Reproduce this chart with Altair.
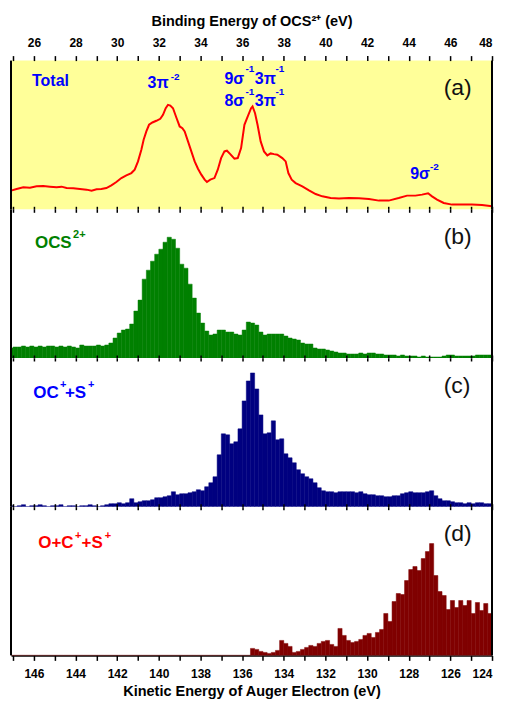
import altair as alt
import pandas as pd

# ---------------- data ----------------
KE_MIN, KE_MAX = 124.0, 147.1          # kinetic-energy axis range (eV), drawn high -> low
BE_SUM = 172.0                          # binding energy = 172 - kinetic energy
BIN_TOP = 147.2                         # upper edge of the first histogram bin
BIN_WIDTH = 0.2
Y_MAX = 149

ke_ticks = list(range(124, 148))
be_ticks = list(range(25, 49))

# (a) total Auger spectrum
total_ke = [147.10, 146.83, 146.51, 146.19, 145.87, 145.55, 145.23, 144.91, 144.67, 144.43,
            144.11, 143.79, 143.47, 143.23, 142.99, 142.76, 142.52, 142.28, 142.04, 141.80,
            141.56, 141.32, 141.16, 141.00, 140.84, 140.73, 140.60, 140.47, 140.31, 140.12,
            139.93, 139.80, 139.67, 139.56, 139.45, 139.32, 139.16, 139.00, 138.87, 138.76,
            138.60, 138.44, 138.28, 138.12, 137.96, 137.80, 137.69, 137.53, 137.33, 137.17,
            137.01, 136.85, 136.73, 136.57, 136.37, 136.21, 136.05, 135.89, 135.73, 135.57,
            135.50, 135.38, 135.26, 135.11, 134.95, 134.79, 134.63, 134.47, 134.31, 134.07,
            133.91, 133.78, 133.62, 133.43, 133.11, 132.79, 132.47, 132.15, 131.75, 131.35,
            130.87, 130.39, 129.91, 129.43, 128.96, 128.48, 128.08, 127.68, 127.36, 127.07,
            126.88, 126.64, 126.32, 125.92, 125.44, 124.96, 124.48, 124.00]
total_int = [18.7, 20.3, 22.0, 21.7, 23.0, 23.3, 22.7, 22.0, 22.7, 21.3,
             21.0, 20.3, 19.7, 18.7, 20.0, 20.3, 21.3, 24.0, 27.3, 31.3,
             34.0, 36.3, 39.7, 48.0, 59.7, 69.7, 78.0, 84.7, 87.0, 88.7,
             90.7, 94.7, 101.3, 104.7, 104.0, 101.3, 92.0, 83.0, 81.3, 78.0,
             68.0, 58.0, 48.0, 40.7, 34.7, 29.7, 27.3, 29.7, 31.3, 39.7,
             51.3, 58.0, 58.7, 55.3, 50.7, 51.3, 61.3, 84.7, 93.0, 101.3,
             103.0, 96.3, 84.7, 68.0, 58.0, 54.0, 56.0, 55.3, 54.7, 51.3,
             48.0, 36.3, 29.7, 26.3, 23.0, 19.0, 15.3, 13.0, 11.3, 10.7,
             11.3, 11.0, 10.3, 8.7, 8.7, 11.3, 13.7, 13.7, 14.7, 16.0,
             13.0, 9.7, 6.3, 4.7, 4.7, 4.7, 4.3, 3.0]

# (b) OCS2+ coincidence counts, 0.2 eV bins from 147.2 eV downwards
ocs2_counts = [10, 11, 11, 12, 11, 12, 11, 12, 11, 12,
               12, 11, 12, 11, 12, 11, 10, 13, 12, 12,
               12, 13, 12, 13, 15, 20, 25, 28, 29, 34,
               47, 58, 79, 88, 97, 104, 109, 116, 121, 119,
               110, 94, 90, 74, 60, 45, 35, 27, 23, 24,
               28, 28, 26, 26, 24, 23, 28, 36, 35, 33,
               26, 23, 24, 24, 24, 24, 22, 20, 19, 18,
               15, 14, 14, 10, 9, 9, 8, 7, 6, 5,
               5, 4, 4, 4, 5, 4, 5, 5, 4, 4,
               3, 3, 3, 2, 3, 2, 2, 2, 1, 2,
               1, 1, 1, 1, 2, 3, 3, 2, 2, 2,
               2, 2, 3, 3, 3, 3]

# (c) OC+ + S+ counts
ocs_pair_counts = [1, 0, 1, 2, 0, 1, 1, 2, 1, 0,
                   1, 1, 2, 0, 1, 1, 0, 1, 1, 2,
                   1, 0, 1, 2, 3, 3, 4, 3, 4, 8,
                   4, 5, 6, 6, 7, 9, 9, 10, 11, 15,
                   12, 13, 13, 14, 15, 17, 16, 20, 24, 30,
                   52, 73, 72, 63, 65, 78, 106, 126, 134, 118,
                   92, 73, 74, 86, 67, 68, 53, 49, 44, 37,
                   33, 30, 28, 24, 19, 16, 15, 15, 14, 15,
                   15, 15, 15, 14, 15, 13, 12, 12, 11, 11,
                   10, 10, 11, 11, 13, 14, 15, 14, 14, 14,
                   15, 16, 11, 8, 6, 6, 5, 4, 4, 3,
                   4, 3, 4, 4, 3, 3]

# (d) O + C+ + S+ counts
triple_counts = [0] * 58 + [
                 7, 6, 4, 3, 2, 3, 5, 15, 12, 9,
                 3, 4, 6, 8, 10, 9, 12, 14, 15, 11,
                 9, 27, 20, 15, 13, 14, 16, 20, 22, 18,
                 23, 26, 42, 34, 54, 62, 61, 75, 86, 89,
                 85, 97, 104, 112, 80, 64, 60, 46, 55, 48,
                 55, 50, 55, 42, 53, 45, 52, 42]

# annotations of panel (a)
ann_text = ["Total", "3\u03c0", "9\u03c3", "3\u03c0", "8\u03c3", "3\u03c0", "9\u03c3"]
ann_ke = [146.09, 140.54, 136.85, 135.39, 136.85, 135.39, 127.93]
ann_v = [128.5, 126.5, 130.5, 130.5, 109, 109, 35.5]
sup_text = ["-2", "-1", "-1", "-1", "-1", "-2"]
sup_ke = [139.43, 135.84, 134.40, 135.84, 134.40, 126.98]
sup_v = [133, 140.5, 140.5, 118, 118, 42.5]

# species labels (main text / superscript)
b_text, b_ke, b_v = ["OCS"], [145.95], [115.7]
b_sup, b_sup_ke, b_sup_v = ["2+"], [144.12], [123.7]
c_text, c_ke, c_v = ["OC", "+S"], [146.03, 144.51], [114, 114]
c_sup, c_sup_ke, c_sup_v = ["+", "+"], [144.75, 143.40], [122, 122]
d_text, d_ke, d_v = ["O+C", "+S"], [145.79, 143.71], [113, 113]
d_sup, d_sup_ke, d_sup_v = ["+", "+"], [144.03, 142.60], [120, 120]

panel_tags = ["(a)", "(b)", "(c)", "(d)"]
tag_ke, tag_v = 126.32, 121.3

# ---------------- styling ----------------
BLUE = "#0000FF"
GREEN = "#008000"
NAVY = "#000080"
MAROON = "#800000"
RED = "#FF0000"
YELLOW = "#FFFF99"
FONT = "Liberation Sans"
TICK_FONT = "Liberation Sans Narrow, Liberation Sans"
EVEN_LABEL = "datum.value % 2 === 0 ? datum.label : ''"
W, H = 482, 149

x_scale = alt.Scale(domain=[KE_MAX, KE_MIN], nice=False, zero=False)
y_scale = alt.Scale(domain=[0, Y_MAX], nice=False, zero=False)
be_scale = alt.Scale(domain=[BE_SUM - KE_MAX, BE_SUM - KE_MIN], nice=False, zero=False)


def tick_axis(orient, size=3):
    return alt.Axis(orient=orient, values=ke_ticks, labels=False, domain=False, grid=False,
                    title=None, tickColor="black", tickWidth=1.5, tickSize=size)


def label_axis(orient, values, title, domain):
    bottom = orient == "bottom"
    return alt.Axis(orient=orient, values=values, grid=False,
                    labelExpr=EVEN_LABEL, labelFlush=True, labelOverlap=False,
                    labelFont=TICK_FONT, labelFontSize=12, labelFontWeight="bold",
                    labelColor="black", labelPadding=8 if bottom else 6,
                    title=title, titleFont=FONT, titleFontSize=14.5, titleFontWeight="bold",
                    titleColor="black", titlePadding=5 if bottom else 8,
                    domain=domain, domainColor="black", domainWidth=1.5,
                    tickColor="black", tickWidth=1.5, tickSize=5)


def carrier(axis, be=False):
    """Invisible layer whose only job is to carry an axis."""
    if be:
        df = pd.DataFrame({"be": [BE_SUM - KE_MAX, BE_SUM - KE_MIN]})
        enc = alt.X("be:Q", scale=be_scale, axis=axis)
    else:
        df = pd.DataFrame({"ke": [KE_MAX, KE_MIN]})
        enc = alt.X("ke:Q", scale=x_scale, axis=axis)
    return alt.Chart(df).mark_point(opacity=0, size=0).encode(x=enc)


def borders(axis):
    df = pd.DataFrame({"ke": [KE_MAX, KE_MIN]})
    return alt.Chart(df).mark_rule(color="black", strokeWidth=2).encode(
        x=alt.X("ke:Q", scale=x_scale, axis=axis))


def texts(t, ke, v, color, size, axis, weight="bold", font=FONT):
    df = pd.DataFrame({"t": t, "ke": ke, "v": v})
    return alt.Chart(df).mark_text(align="left", baseline="middle", color=color,
                                   fontSize=size, fontWeight=weight, font=font).encode(
        x=alt.X("ke:Q", scale=x_scale, axis=axis),
        y=alt.Y("v:Q", scale=y_scale, axis=None),
        text="t:N")


def tag(i, axis):
    return texts([panel_tags[i]], [tag_ke], [tag_v], "#111111", 23, axis, weight="normal")


def hist(counts, color, axis):
    hi = [round(BIN_TOP - BIN_WIDTH * i, 2) for i in range(len(counts))]
    lo = [round(h - BIN_WIDTH, 2) for h in hi]
    df = pd.DataFrame({"hi": hi, "lo": lo, "v": counts})
    return alt.Chart(df).mark_rect(color=color, stroke=color, strokeWidth=0.5, clip=True).encode(
        x=alt.X("hi:Q", scale=x_scale, axis=axis),
        x2="lo:Q",
        y=alt.Y("v:Q", scale=y_scale, axis=None),
        y2=alt.datum(0))


# ---------------- panel (a) ----------------
ax = tick_axis("bottom")
total_df = pd.DataFrame({"ke": total_ke, "v": total_int})
total_line = alt.Chart(total_df).mark_line(color=RED, strokeWidth=2, clip=True).encode(
    x=alt.X("ke:Q", scale=x_scale, axis=ax),
    y=alt.Y("v:Q", scale=y_scale, axis=None))

panel_a = alt.layer(
    alt.layer(total_line, borders(ax),
              texts(ann_text, ann_ke, ann_v, BLUE, 16, ax),
              texts(sup_text, sup_ke, sup_v, BLUE, 10, ax),
              tag(0, ax)),
    carrier(label_axis("top", be_ticks, "Binding Energy of OCS\u00b2\u207a (eV)", False), be=True),
).resolve_scale(x="independent").properties(
    width=W, height=H, view=alt.ViewBackground(fill=YELLOW))

# ---------------- panel (b) ----------------
ax = tick_axis("bottom")
panel_b = alt.layer(
    alt.layer(hist(ocs2_counts, GREEN, ax), borders(ax),
              texts(b_text, b_ke, b_v, GREEN, 17, ax),
              texts(b_sup, b_sup_ke, b_sup_v, GREEN, 11, ax),
              tag(1, ax)),
    carrier(tick_axis("top")),
).resolve_scale(x="independent").properties(width=W, height=H)

# ---------------- panel (c) ----------------
ax = tick_axis("bottom")
panel_c = alt.layer(
    alt.layer(hist(ocs_pair_counts, NAVY, ax), borders(ax),
              texts(c_text, c_ke, c_v, BLUE, 17, ax),
              texts(c_sup, c_sup_ke, c_sup_v, BLUE, 11, ax),
              tag(2, ax)),
    carrier(tick_axis("top")),
).resolve_scale(x="independent").properties(width=W, height=H)

# ---------------- panel (d) ----------------
ax = label_axis("bottom", ke_ticks, "Kinetic Energy of Auger Electron (eV)", True)
panel_d = alt.layer(
    alt.layer(hist(triple_counts, MAROON, ax), borders(ax),
              texts(d_text, d_ke, d_v, RED, 17, ax),
              texts(d_sup, d_sup_ke, d_sup_v, RED, 11, ax),
              tag(3, ax)),
    carrier(tick_axis("top")),
).resolve_scale(x="independent").properties(width=W, height=H)

chart = alt.vconcat(panel_a, panel_b, panel_c, panel_d, spacing=0, bounds="flush").properties(
    padding={"left": 2, "right": 5, "top": 5, "bottom": 2},
    background="white",
).configure_view(strokeWidth=0)

chart.save("out.html", embed_options={"renderer": "svg", "actions": False})
